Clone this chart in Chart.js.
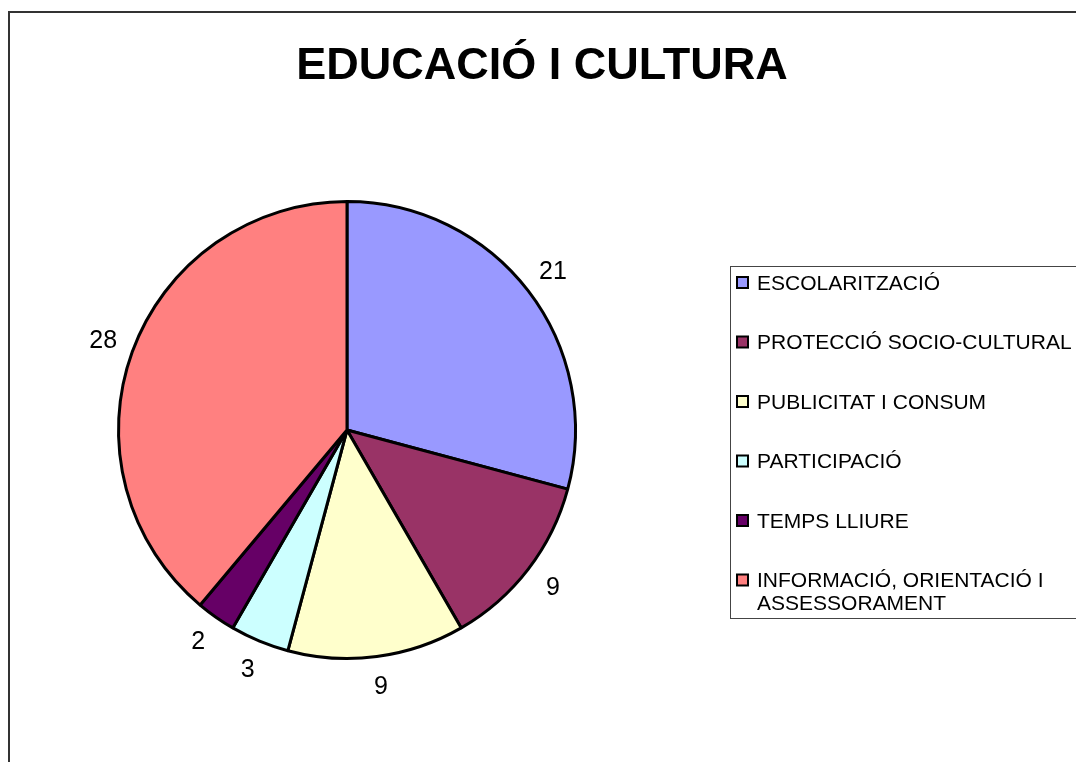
<!DOCTYPE html>
<html>
<head>
<meta charset="utf-8">
<script src="https://cdn.jsdelivr.net/npm/chart.js@4/dist/chart.umd.min.js"></script>
<style>
  html, body { margin: 0; padding: 0; background: #fff; }
  #wrap { width: 1076px; height: 762px; position: relative; }
</style>
</head>
<body>
<div id="wrap"><canvas id="educacioChart"></canvas></div>
<script>
var chartTitle = "EDUCACIÓ I CULTURA";
var categories = [
  "ESCOLARITZACIÓ",
  "PROTECCIÓ SOCIO-CULTURAL",
  "PUBLICITAT I CONSUM",
  "PARTICIPACIÓ",
  "TEMPS LLIURE",
  "INFORMACIÓ, ORIENTACIÓ I ASSESSORAMENT"
];
var counts = [21, 9, 9, 3, 2, 28];
var sliceColors = ["#9999FF", "#993366", "#FFFFCC", "#CCFFFF", "#660066", "#FF8080"];

var FONT = "Liberation Sans, Arial, sans-serif";

// frame + title behind the chart
var framePlugin = {
  id: "frame",
  beforeDraw: function (chart) {
    var c = chart.ctx;
    c.save();
    c.fillStyle = "#fff";
    c.fillRect(0, 0, chart.width, chart.height);
    c.strokeStyle = "#333";
    c.lineWidth = 2;
    c.beginPath();
    c.moveTo(9, chart.height + 5);
    c.lineTo(9, 12);
    c.lineTo(chart.width + 5, 12);
    c.stroke();
    c.fillStyle = "#000";
    c.font = "bold 45px " + FONT;
    c.textAlign = "center";
    c.textBaseline = "middle";
    c.fillText(chartTitle, 542, 67);
    c.restore();
  }
};

// value labels outside each slice
var outsideLabels = {
  id: "outsideLabels",
  afterDatasetsDraw: function (chart) {
    var c = chart.ctx;
    var meta = chart.getDatasetMeta(0);
    var values = chart.data.datasets[0].data;
    c.save();
    c.fillStyle = "#000";
    c.font = "25px " + FONT;
    c.textAlign = "center";
    c.textBaseline = "middle";
    meta.data.forEach(function (arc, i) {
      var p = arc.getProps(["x", "y", "startAngle", "endAngle", "outerRadius"], true);
      var mid = (p.startAngle + p.endAngle) / 2;
      var r = p.outerRadius + 31;
      c.fillText(String(values[i]), p.x + Math.cos(mid) * r, p.y + Math.sin(mid) * r);
    });
    c.restore();
  }
};

// boxed legend on the right
var boxLegend = {
  id: "boxLegend",
  afterDraw: function (chart) {
    var c = chart.ctx;
    var labels = chart.data.labels;
    var colors = chart.data.datasets[0].backgroundColor;
    c.save();
    c.strokeStyle = "#444";
    c.lineWidth = 1;
    c.strokeRect(730.5, 266.5, 400, 352);
    c.font = "21px " + FONT;
    c.textBaseline = "middle";
    c.textAlign = "left";
    var y = 284;
    labels.forEach(function (lab, i) {
      // wrap long labels
      var words = lab.split(" ");
      var lines = [];
      var cur = "";
      words.forEach(function (w) {
        var t = cur ? cur + " " + w : w;
        if (c.measureText(t).width > 325 && cur) {
          lines.push(cur);
          cur = w;
        } else {
          cur = t;
        }
      });
      lines.push(cur);
      c.fillStyle = colors[i];
      c.fillRect(737, y - 7, 11, 11);
      c.strokeStyle = "#000";
      c.lineWidth = 2;
      c.strokeRect(737, y - 7, 11, 11);
      c.fillStyle = "#000";
      lines.forEach(function (ln, k) {
        c.fillText(ln, 757, y + k * 23);
      });
      y += 59.5;
    });
    c.restore();
  }
};

var ctx = document.getElementById("educacioChart").getContext("2d");
var educacioChart = new Chart(ctx, {
  type: "pie",
  data: {
    labels: categories,
    datasets: [
      {
        data: counts,
        backgroundColor: sliceColors,
        borderColor: "#000",
        borderWidth: 3
      }
    ]
  },
  options: {
    responsive: true,
    maintainAspectRatio: false,
    animation: false,
    layout: {
      padding: { left: 117, right: 499, top: 200, bottom: 102 }
    },
    plugins: {
      legend: { display: false },
      title: { display: false },
      tooltip: { enabled: false }
    }
  },
  plugins: [framePlugin, outsideLabels, boxLegend]
});
</script>
</body>
</html>
